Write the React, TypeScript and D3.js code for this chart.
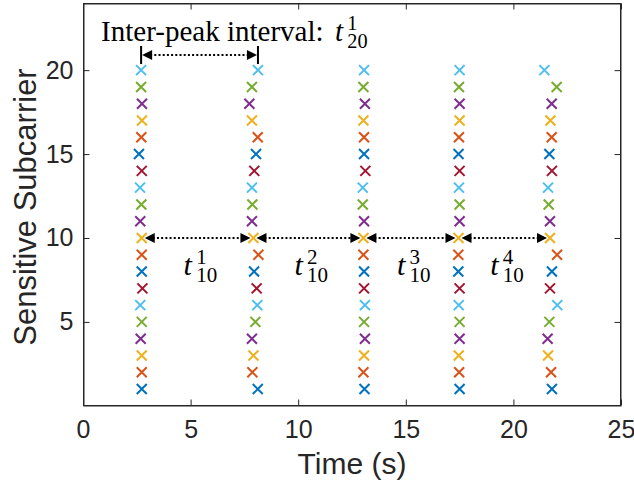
import React, { useEffect, useRef } from "react";
import * as d3 from "d3";

// subcarrier index 1..20 (y values)
const subcarriers = [1, 2, 3, 4, 5, 6, 7, 8, 9, 10, 11, 12, 13, 14, 15, 16, 17, 18, 19, 20];

// peak time (s) of each sensitive subcarrier, one array per breath peak
const peak1 = [2.73, 2.73, 2.73, 2.68, 2.73, 2.66, 2.76, 2.73, 2.73, 2.73, 2.66, 2.71, 2.65, 2.73, 2.6, 2.71, 2.74, 2.74, 2.7, 2.7];
const peak2 = [8.12, 7.87, 7.92, 7.85, 8.01, 8.1, 8.07, 7.95, 8.15, 7.92, 7.85, 7.87, 7.85, 7.96, 8.04, 8.12, 7.85, 7.73, 7.85, 8.13];
const peak3 = [13.08, 13.03, 13.06, 13.1, 13.06, 13.1, 13.06, 13.06, 13.03, 13.03, 13.06, 13.0, 13.0, 13.12, 13.06, 13.06, 13.03, 13.1, 13.03, 13.06];
const peak4 = [17.5, 17.48, 17.46, 17.5, 17.5, 17.46, 17.5, 17.44, 17.44, 17.45, 17.5, 17.5, 17.47, 17.5, 17.45, 17.47, 17.5, 17.5, 17.47, 17.5];
const peak5 = [21.79, 21.75, 21.61, 21.59, 21.67, 22.04, 21.7, 21.79, 22.03, 21.7, 21.7, 21.64, 21.61, 21.79, 21.67, 21.78, 21.72, 21.78, 22.01, 21.44];
const peaks = [peak1, peak2, peak3, peak4, peak5];

// matlab default color order
const colorOrder = ["#0072BD", "#D95319", "#EDB120", "#7E2F8E", "#77AC30", "#4DBEEE", "#A2142F"];

const xTicks = [0, 5, 10, 15, 20, 25];
const yTicks = [5, 10, 15, 20];
const intervalSups = ["1", "2", "3", "4"];

const W = 634;
const H = 485;
const AX = "#262626";

function App() {
  const svgRef = useRef<SVGSVGElement>(null);

  useEffect(() => {
    const svg = d3.select(svgRef.current);
    svg.selectAll("*").remove();

    const x = d3.scaleLinear().domain([0, 25]).range([83, 621]);
    const y = d3.scaleLinear().domain([0.05, 24]).range([405, 3]);

    // markers
    const pts = peaks.flatMap((p) => p.map((t, i) => ({ t, s: subcarriers[i] })));
    svg.append("g")
      .selectAll("path")
      .data(pts)
      .enter()
      .append("path")
      .attr("transform", (d) => `translate(${x(d.t)},${y(d.s)})`)
      .attr("d", "M-5,-5L5,5M-5,5L5,-5")
      .style("fill", "none")
      .style("stroke", (d) => colorOrder[(d.s - 1) % 7])
      .style("stroke-width", 2);

    // axes box + ticks
    const fontSans = "'Liberation Sans', Arial, Helvetica, sans-serif";
    const bottom = svg.append("g").attr("transform", "translate(0,405.5)")
      .call(d3.axisBottom(x).tickValues(xTicks).tickSizeInner(-6).tickSizeOuter(0).tickPadding(15));
    const left = svg.append("g").attr("transform", "translate(83.5,0)")
      .call(d3.axisLeft(y).tickValues(yTicks).tickSizeInner(-6).tickSizeOuter(0).tickPadding(10));
    svg.append("g").attr("transform", "translate(0,3.5)")
      .call(d3.axisTop(x).tickValues(xTicks).tickSizeInner(-6).tickSizeOuter(0).tickFormat(() => ""));
    svg.append("g").attr("transform", "translate(620.5,0)")
      .call(d3.axisRight(y).tickValues(yTicks).tickSizeInner(-6).tickSizeOuter(0).tickFormat(() => ""));
    svg.selectAll(".domain").style("stroke", AX);
    svg.selectAll(".tick line").style("stroke", AX);
    [bottom, left].forEach((g) => {
      g.selectAll("text").style("font-family", fontSans).style("font-size", "25px").style("fill", AX);
    });
    svg.append("rect")
      .attr("x", 83.5).attr("y", 3.5).attr("width", 537).attr("height", 402)
      .style("fill", "none").style("stroke", AX).style("stroke-width", 1);

    svg.append("text")
      .attr("x", (x(0) + x(25)) / 2).attr("y", 474)
      .attr("text-anchor", "middle")
      .style("font-family", fontSans).style("font-size", "30px").style("fill", AX)
      .text("Time (s)");
    svg.append("text")
      .attr("transform", `translate(36,${(y.range()[0] + y.range()[1]) / 2 + 3}) rotate(-90)`)
      .attr("text-anchor", "middle")
      .style("font-family", fontSans).style("font-size", "31px").style("fill", AX)
      .text("Sensitive Subcarrier");

    const serif = "'Liberation Serif', 'Times New Roman', serif";

    // t^sup_sub label as one text element
    function mathLabel(x0: number, base: number, sup: string, sub: string, fs: number) {
      const tx = svg.append("text").attr("x", x0).attr("y", base)
        .style("font-family", serif).style("fill", "#000").style("font-size", fs + "px");
      tx.append("tspan").style("font-style", "italic").text("t");
      tx.append("tspan").attr("x", x0 + 0.42 * fs).attr("y", base - 0.37 * fs)
        .style("font-size", 0.7 * fs + "px").text(sup);
      tx.append("tspan").attr("x", x0 + 0.42 * fs).attr("y", base + 0.24 * fs)
        .style("font-size", 0.7 * fs + "px").text(sub);
    }

    function head(xt: number, yt: number, dir: number) {
      svg.append("path")
        .attr("d", `M${xt},${yt}L${xt - dir * 10},${yt - 5}L${xt - dir * 10},${yt + 5}Z`)
        .style("fill", "#000");
    }

    function arrow(x1: number, x2: number, yy: number) {
      svg.append("line")
        .attr("x1", x1 + 8).attr("x2", x2 - 8).attr("y1", yy).attr("y2", yy)
        .style("stroke", "#000").style("stroke-width", 2.2).style("stroke-dasharray", "2 2.2");
      head(x1, yy, -1);
      head(x2, yy, 1);
    }

    // intervals at subcarrier 10
    const i10 = subcarriers.indexOf(10);
    for (let k = 0; k < peaks.length - 1; k++) {
      const xa = x(peaks[k][i10]) + 3;
      const xb = x(peaks[k + 1][i10]) - 3;
      arrow(xa, xb, y(10));
      const mid = (xa + xb) / 2 + 3;
      mathLabel(mid - 17, y(10) + 37, intervalSups[k], "10", 30);
    }

    // inter-peak interval at subcarrier 20
    const i20 = subcarriers.indexOf(20);
    const xa = x(peaks[0][i20]);
    const xb = x(peaks[1][i20]);
    const ya = 55;
    [xa, xb].forEach((xx) => {
      svg.append("line").attr("x1", xx).attr("x2", xx).attr("y1", ya - 9).attr("y2", ya + 9)
        .style("stroke", "#000").style("stroke-width", 2);
    });
    arrow(xa + 1, xb - 1, ya);

    svg.append("text")
      .attr("x", xa - 40).attr("y", 41)
      .style("font-family", serif).style("font-size", "29px").style("fill", "#000")
      .text("Inter-peak interval:");
    mathLabel(xa + 194, 41, "1", "20", 29);
  }, []);

  return (
    <svg ref={svgRef} width={W} height={H} style={{ position: "absolute", left: 0, top: 0, background: "#fff" }} />
  );
}

export default App;
